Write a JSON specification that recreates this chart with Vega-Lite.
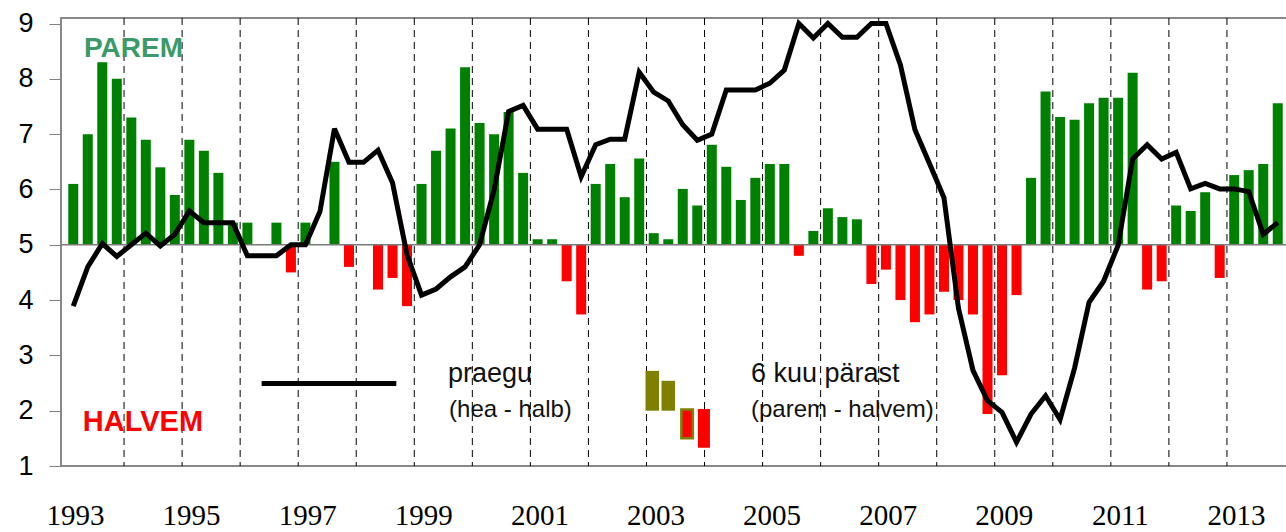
{
  "$schema": "https://vega.github.io/schema/vega-lite/v6.json",
  "width": 1229,
  "height": 448,
  "autosize": {"type": "none"},
  "padding": {"left": 61, "top": 18, "right": 0, "bottom": 66},
  "background": "white",
  "config": {"view": {"stroke": "#888888", "strokeWidth": 2}},
  "datasets": {
    "q": [
      {"t": 1993.125, "bar": 6.10, "line": 3.89}, {"t": 1993.375, "bar": 7.00, "line": 4.60}, {"t": 1993.625, "bar": 8.30, "line": 5.02}, {"t": 1993.875, "bar": 8.00, "line": 4.79},
      {"t": 1994.125, "bar": 7.30, "line": 5.00}, {"t": 1994.375, "bar": 6.90, "line": 5.21}, {"t": 1994.625, "bar": 6.40, "line": 4.98}, {"t": 1994.875, "bar": 5.90, "line": 5.19},
      {"t": 1995.125, "bar": 6.90, "line": 5.61}, {"t": 1995.375, "bar": 6.70, "line": 5.40}, {"t": 1995.625, "bar": 6.30, "line": 5.40}, {"t": 1995.875, "bar": 5.40, "line": 5.40},
      {"t": 1996.125, "bar": 5.40, "line": 4.80}, {"t": 1996.375, "bar": 5.00, "line": 4.80}, {"t": 1996.625, "bar": 5.40, "line": 4.80}, {"t": 1996.875, "bar": 4.50, "line": 5.00},
      {"t": 1997.125, "bar": 5.40, "line": 5.00}, {"t": 1997.375, "bar": 5.00, "line": 5.60}, {"t": 1997.625, "bar": 6.50, "line": 7.10}, {"t": 1997.875, "bar": 4.60, "line": 6.49},
      {"t": 1998.125, "bar": 5.00, "line": 6.49}, {"t": 1998.375, "bar": 4.19, "line": 6.71}, {"t": 1998.625, "bar": 4.40, "line": 6.12}, {"t": 1998.875, "bar": 3.89, "line": 4.82},
      {"t": 1999.125, "bar": 6.10, "line": 4.09}, {"t": 1999.375, "bar": 6.70, "line": 4.20}, {"t": 1999.625, "bar": 7.10, "line": 4.42}, {"t": 1999.875, "bar": 8.21, "line": 4.60},
      {"t": 2000.125, "bar": 7.20, "line": 5.00}, {"t": 2000.375, "bar": 7.00, "line": 5.99}, {"t": 2000.625, "bar": 7.40, "line": 7.41}, {"t": 2000.875, "bar": 6.30, "line": 7.52},
      {"t": 2001.125, "bar": 5.10, "line": 7.09}, {"t": 2001.375, "bar": 5.10, "line": 7.09}, {"t": 2001.625, "bar": 4.34, "line": 7.09}, {"t": 2001.875, "bar": 3.74, "line": 6.23},
      {"t": 2002.125, "bar": 6.10, "line": 6.81}, {"t": 2002.375, "bar": 6.46, "line": 6.91}, {"t": 2002.625, "bar": 5.86, "line": 6.91}, {"t": 2002.875, "bar": 6.56, "line": 8.12},
      {"t": 2003.125, "bar": 5.21, "line": 7.76}, {"t": 2003.375, "bar": 5.10, "line": 7.60}, {"t": 2003.625, "bar": 6.01, "line": 7.17}, {"t": 2003.875, "bar": 5.71, "line": 6.89},
      {"t": 2004.125, "bar": 6.81, "line": 7.00}, {"t": 2004.375, "bar": 6.41, "line": 7.80}, {"t": 2004.625, "bar": 5.81, "line": 7.80}, {"t": 2004.875, "bar": 6.21, "line": 7.80},
      {"t": 2005.125, "bar": 6.46, "line": 7.92}, {"t": 2005.375, "bar": 6.46, "line": 8.16}, {"t": 2005.625, "bar": 4.80, "line": 9.00}, {"t": 2005.875, "bar": 5.25, "line": 8.74},
      {"t": 2006.125, "bar": 5.66, "line": 9.00}, {"t": 2006.375, "bar": 5.50, "line": 8.75}, {"t": 2006.625, "bar": 5.46, "line": 8.75}, {"t": 2006.875, "bar": 4.29, "line": 9.00},
      {"t": 2007.125, "bar": 4.55, "line": 9.00}, {"t": 2007.375, "bar": 4.00, "line": 8.25}, {"t": 2007.625, "bar": 3.60, "line": 7.08}, {"t": 2007.875, "bar": 3.74, "line": 6.47},
      {"t": 2008.125, "bar": 4.15, "line": 5.85}, {"t": 2008.375, "bar": 4.00, "line": 3.85}, {"t": 2008.625, "bar": 3.74, "line": 2.73}, {"t": 2008.875, "bar": 1.94, "line": 2.18},
      {"t": 2009.125, "bar": 2.64, "line": 1.97}, {"t": 2009.375, "bar": 4.09, "line": 1.43}, {"t": 2009.625, "bar": 6.21, "line": 1.94}, {"t": 2009.875, "bar": 7.77, "line": 2.27},
      {"t": 2010.125, "bar": 7.31, "line": 1.84}, {"t": 2010.375, "bar": 7.26, "line": 2.77}, {"t": 2010.625, "bar": 7.56, "line": 3.96}, {"t": 2010.875, "bar": 7.66, "line": 4.34},
      {"t": 2011.125, "bar": 7.66, "line": 4.99}, {"t": 2011.375, "bar": 8.11, "line": 6.55}, {"t": 2011.625, "bar": 4.19, "line": 6.81}, {"t": 2011.875, "bar": 4.34, "line": 6.55},
      {"t": 2012.125, "bar": 5.71, "line": 6.67}, {"t": 2012.375, "bar": 5.61, "line": 6.01}, {"t": 2012.625, "bar": 5.95, "line": 6.11}, {"t": 2012.875, "bar": 4.40, "line": 6.01},
      {"t": 2013.125, "bar": 6.26, "line": 6.01}, {"t": 2013.375, "bar": 6.35, "line": 5.96}, {"t": 2013.625, "bar": 6.46, "line": 5.19}, {"t": 2013.875, "bar": 7.56, "line": 5.40}
    ],
    "years": [
      {"year": 1994}, {"year": 1995}, {"year": 1996}, {"year": 1997}, {"year": 1998}, {"year": 1999}, {"year": 2000},
      {"year": 2001}, {"year": 2002}, {"year": 2003}, {"year": 2004}, {"year": 2005}, {"year": 2006}, {"year": 2007},
      {"year": 2008}, {"year": 2009}, {"year": 2010}, {"year": 2011}, {"year": 2012}, {"year": 2013}
    ]
  },
  "layer": [
    {
      "data": {"name": "years"},
      "mark": {"type": "rule", "color": "#000000", "strokeWidth": 1, "strokeDash": [7, 5]},
      "encoding": {
        "x": {"field": "year", "type": "quantitative", "scale": {"domain": [1993, 2014], "nice": false, "zero": false},
          "axis": {"values": [1993, 1995, 1997, 1999, 2001, 2003, 2005, 2007, 2009, 2011, 2013], "format": "d", "title": null,
            "grid": false, "ticks": false, "tickSize": 0, "domain": false, "labelFont": "Liberation Serif", "labelFontSize": 29,
            "labelColor": "#000000", "labelBaseline": "alphabetic", "labelPadding": 58, "labelOffset": 9, "labelFlush": false, "labelOverlap": false}}
      }
    },
    {
      "data": {"name": "q"},
      "mark": {"type": "bar", "width": 10},
      "encoding": {
        "x": {"field": "t", "type": "quantitative"},
        "y": {"field": "bar", "type": "quantitative", "scale": {"domain": [1, 9.1], "nice": false, "zero": false},
          "axis": {"values": [1, 2, 3, 4, 5, 6, 7, 8, 9], "format": "d", "title": null, "grid": false, "domain": false,
            "tickColor": "#808080", "tickSize": 12, "tickWidth": 1, "labelFont": "Liberation Sans", "labelFontSize": 27,
            "labelColor": "#000000", "labelPadding": 16}},
        "y2": {"datum": 5},
        "color": {"field": "bar", "type": "quantitative", "scale": {"type": "threshold", "domain": [5], "range": ["#FF0000", "#008000"]}, "legend": null}
      }
    },
    {
      "data": {"values": [{"v": 5}]},
      "mark": {"type": "rule", "color": "#7a7a7a", "strokeWidth": 1.5},
      "encoding": {"y": {"field": "v", "type": "quantitative"}}
    },
    {
      "data": {"name": "q"},
      "mark": {"type": "line", "color": "#000000", "strokeWidth": 5, "strokeJoin": "miter", "strokeMiterLimit": 3},
      "encoding": {
        "x": {"field": "t", "type": "quantitative"},
        "y": {"field": "line", "type": "quantitative"}
      }
    },
    {
      "data": {"values": [{"t0": 1996.37, "t1": 1998.69, "v": 2.49}]},
      "mark": {"type": "rule", "color": "#000000", "strokeWidth": 5},
      "encoding": {
        "x": {"field": "t0", "type": "quantitative"},
        "x2": {"field": "t1"},
        "y": {"field": "v", "type": "quantitative"}
      }
    },
    {
      "data": {"values": [{"t": 2003.10, "lo": 2.0, "hi": 2.72}, {"t": 2003.375, "lo": 2.0, "hi": 2.54}]},
      "mark": {"type": "bar", "width": 13.5, "color": "#808000"},
      "encoding": {
        "x": {"field": "t", "type": "quantitative"},
        "y": {"field": "hi", "type": "quantitative"},
        "y2": {"field": "lo"}
      }
    },
    {
      "data": {"values": [{"t": 2003.70, "lo": 1.50, "hi": 2.02}]},
      "mark": {"type": "bar", "width": 11.5, "fill": "#FF0000", "stroke": "#808000", "strokeWidth": 2.5},
      "encoding": {
        "x": {"field": "t", "type": "quantitative"},
        "y": {"field": "hi", "type": "quantitative"},
        "y2": {"field": "lo"}
      }
    },
    {
      "data": {"values": [{"t": 2003.99, "lo": 1.33, "hi": 2.03}]},
      "mark": {"type": "bar", "width": 12, "color": "#FF0000"},
      "encoding": {
        "x": {"field": "t", "type": "quantitative"},
        "y": {"field": "hi", "type": "quantitative"},
        "y2": {"field": "lo"}
      }
    },
    {
      "data": {"values": [{"t": 1993.31, "v": 8.39, "label": "PAREM"}]},
      "mark": {"type": "text", "align": "left", "baseline": "alphabetic", "font": "Liberation Sans", "fontWeight": "bold", "fontSize": 28, "color": "#3A9A6A"},
      "encoding": {
        "x": {"field": "t", "type": "quantitative"},
        "y": {"field": "v", "type": "quantitative"},
        "text": {"field": "label"}
      }
    },
    {
      "data": {"values": [{"t": 1993.29, "v": 1.63, "label": "HALVEM"}]},
      "mark": {"type": "text", "align": "left", "baseline": "alphabetic", "font": "Liberation Sans", "fontWeight": "bold", "fontSize": 29, "color": "#FF0000"},
      "encoding": {
        "x": {"field": "t", "type": "quantitative"},
        "y": {"field": "v", "type": "quantitative"},
        "text": {"field": "label"}
      }
    },
    {
      "data": {"values": [{"t": 1999.58, "v": 2.52, "label": "praegu"}, {"t": 2004.80, "v": 2.52, "label": "6 kuu pärast"}]},
      "mark": {"type": "text", "align": "left", "baseline": "alphabetic", "font": "Liberation Sans", "fontSize": 27, "color": "#111111"},
      "encoding": {
        "x": {"field": "t", "type": "quantitative"},
        "y": {"field": "v", "type": "quantitative"},
        "text": {"field": "label"}
      }
    },
    {
      "data": {"values": [{"t": 1999.60, "v": 1.89, "label": "(hea - halb)"}, {"t": 2004.80, "v": 1.89, "label": "(parem - halvem)"}]},
      "mark": {"type": "text", "align": "left", "baseline": "alphabetic", "font": "Liberation Sans", "fontSize": 24, "color": "#111111"},
      "encoding": {
        "x": {"field": "t", "type": "quantitative"},
        "y": {"field": "v", "type": "quantitative"},
        "text": {"field": "label"}
      }
    }
  ]
}
